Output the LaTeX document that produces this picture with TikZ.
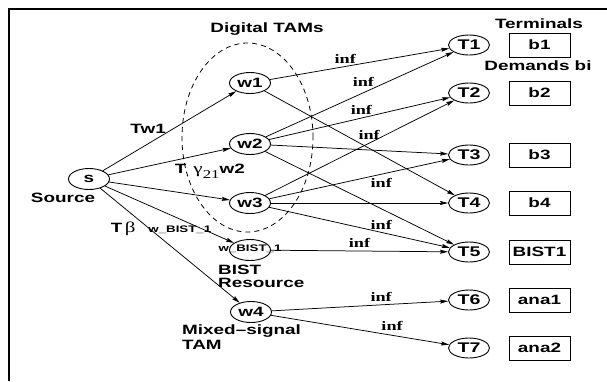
\documentclass[tikz,border=0pt]{standalone}
\usepackage{fontspec}
\usetikzlibrary{arrows.meta,shapes.geometric}
\newfontfamily\labfont{Liberation Sans}[FakeStretch=1.4]
\newfontfamily\serfont{Liberation Serif}[FakeStretch=1.4]
\newcommand{\lab}[1]{\labfont\bfseries\fontsize{#1}{#1}\selectfont}

\begin{document}
\begin{tikzpicture}[x=1pt,y=-1pt,
    vert/.style={draw, ellipse, line width=0.9pt, minimum width=41pt,
      minimum height=21pt, inner sep=0pt, font=\lab{13.5}},
    term/.style={vert, minimum height=20pt, font=\lab{14}},
    demand/.style={draw, line width=0.9pt, minimum width=61pt,
      minimum height=24pt, inner sep=0pt, font=\lab{13.5}},
    lab/.style={inner sep=0pt, font=\lab{13.5}},
    inflab/.style={inner sep=0pt, font=\serfont\bfseries\fontsize{13}{13}\selectfont},
    flow/.style={-{Stealth[length=8pt,width=4pt,inset=1pt]}, line width=0.75pt}]
  \useasboundingbox (0,0) rectangle (607,381);
  \draw[line width=1.2pt] (9,381) -- (9,9) -- (607,9);

  \node[draw, dashed, ellipse, line width=0.8pt, minimum width=131pt,
    minimum height=189pt, dash pattern=on 5pt off 4pt] (digital) at (247.5,137.5) {};
  \node[lab] (digtxt) at (267,29) {Digital TAMs};

  \node[vert] (s) at (89,179) {s};
  \node[vert] (w1) at (250,83) {w1};
  \node[vert] (w2) at (250,144) {w2};
  \node[vert] (w3) at (250,203) {w3};
  \node[vert] (wb) at (250,250) {};
  \node[inner sep=0pt, font=\lab{9.5}] (wbtxt) at (250,248.5) {w\_BIST\_1};
  \node[vert] (w4) at (251,312) {w4};

  \node[term] (t1) at (469,45) {T1};
  \node[term] (t2) at (469,93) {T2};
  \node[term] (t3) at (469,155) {T3};
  \node[term] (t4) at (469,203) {T4};
  \node[term] (t5) at (469,252) {T5};
  \node[term] (t6) at (469,300) {T6};
  \node[term] (t7) at (469,348) {T7};

  \node[demand] (b1) at (539.5,45) {b1};
  \node[demand] (b2) at (539.5,93) {b2};
  \node[demand] (b3) at (539.5,155) {b3};
  \node[demand] (b4) at (539.5,203) {b4};
  \node[demand] (b5) at (539.5,252) {BIST1};
  \node[demand] (b6) at (539.5,300) {ana1};
  \node[demand] (b7) at (539.5,348) {ana2};

  \node[lab] (termtxt) at (539,24) {Terminals};
  \node[lab] (demtxt) at (538,66) {Demands bi};
  \node[lab] (srctxt) at (63,198) {Source};
  \node[lab, anchor=north west, align=left, font=\lab{13.5}\fontsize{13.5}{13}\selectfont]
    (bisttxt) at (218,265) {BIST\\Resource};
  \node[lab, anchor=north west, align=left, font=\lab{13.5}\fontsize{13.5}{14.5}\selectfont]
    (mixtxt) at (182,325) {Mixed–signal\\TAM};

  \draw[flow] (s) -- node[lab, pos=0.34, above=10pt] {Tw1} (w1);
  \draw[flow] (s) -- node[lab, pos=0.83, below=11pt]
    {T\hspace{7pt}{\serfont\mdseries\fontsize{15}{15}\selectfont γ}\raisebox{-5pt}{\serfont\mdseries\fontsize{12}{12}\selectfont 21}w2} (w2);
  \draw[flow] (s) -- (w3);
  \draw[flow] (s) -- node[lab, pos=0.435, below=11pt]
    {T\,{\serfont\mdseries\fontsize{15}{15}\selectfont β}\hspace{13pt}{\lab{9.5}w\_BIST\_1}} (wb);
  \draw[flow] (s) -- (w4);

  \draw[flow] (w1) -- node[inflab, pos=0.42, above=3pt] {inf} (t1);
  \draw[flow] (w1) -- (t4);
  \draw[flow] (w2) -- node[inflab, pos=0.52, above=6pt] {inf} (t1);
  \draw[flow] (w2) -- node[inflab, pos=0.51, above=3.5pt] {inf} (t2);
  \draw[flow] (w2) -- (t3);
  \draw[flow] (w2) -- (t5);
  \draw[flow] (w3) -- node[inflab, pos=0.55, above=3pt] {inf} (t2);
  \draw[flow] (w3) -- node[inflab, pos=0.62, below=4pt] {inf} (t3);
  \draw[flow] (w3) -- (t4);
  \draw[flow] (w3) -- node[inflab, pos=0.62, above=2pt] {inf} (t5);
  \draw[flow] (wb) -- node[inflab, pos=0.5, above=3.5pt] {inf} (t5);
  \draw[flow] (w4) -- node[inflab, pos=0.62, above=3pt] {inf} (t6);
  \draw[flow] (w4) -- node[inflab, pos=0.68, above=4pt] {inf} (t7);
\end{tikzpicture}
\end{document}
